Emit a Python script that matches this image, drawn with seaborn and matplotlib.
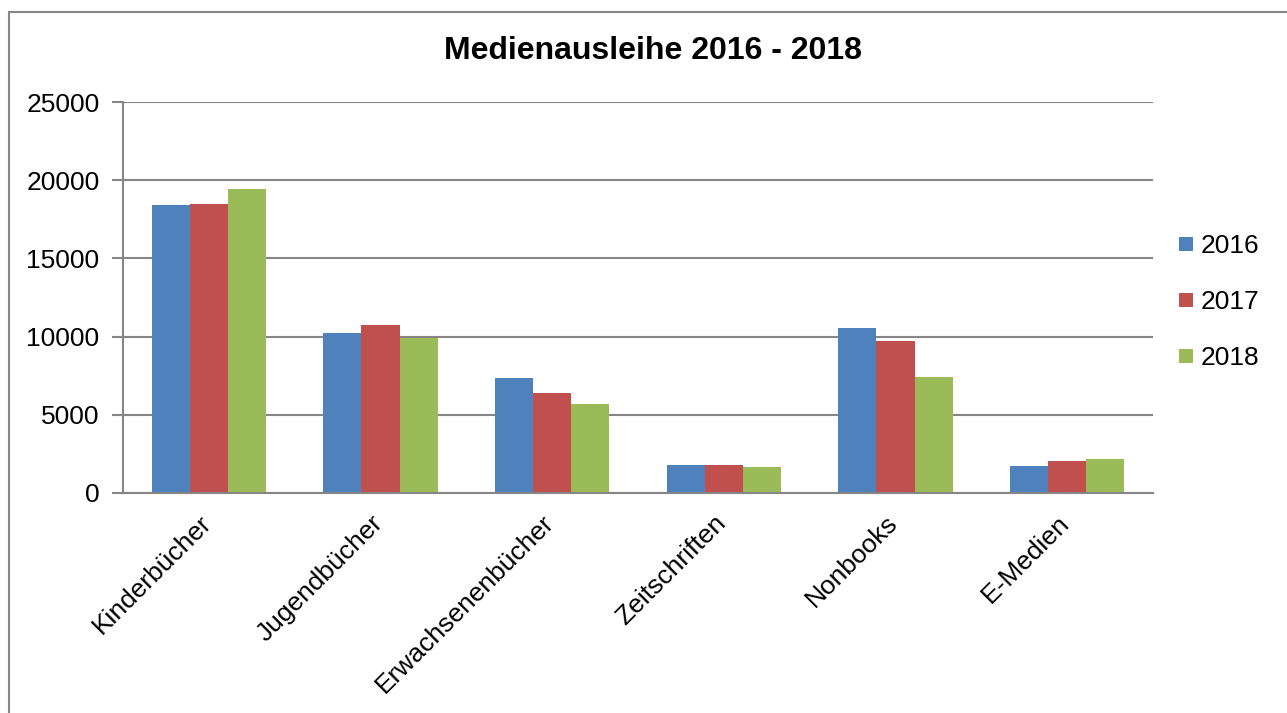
import pandas as pd
import seaborn as sns
import matplotlib.pyplot as plt
from matplotlib.lines import Line2D
from matplotlib.transforms import ScaledTranslation

categories = ["Kinderbücher", "Jugendbücher", "Erwachsenenbücher",
              "Zeitschriften", "Nonbooks", "E-Medien"]
years = ["2016", "2017", "2018"]
values_2016 = [18410, 10240, 7360, 1760, 10580, 1720]
values_2017 = [18490, 10730, 6400, 1810, 9720, 2040]
values_2018 = [19430, 9920, 5700, 1680, 7410, 2190]
colors = ["#4F81BD", "#C0504D", "#9BBB59"]

df = pd.DataFrame({"Kategorie": categories,
                   "2016": values_2016,
                   "2017": values_2017,
                   "2018": values_2018})
long_df = df.melt(id_vars="Kategorie", var_name="Jahr", value_name="Ausleihe")

sns.set_style("white")
plt.rcParams['font.family'] = ['Liberation Sans', 'DejaVu Sans']
plt.rcParams['text.color'] = 'black'
plt.rcParams['xtick.color'] = 'black'
plt.rcParams['ytick.color'] = 'black'

fig = plt.figure(figsize=(12.87, 7.13), dpi=100)
ax = fig.add_axes([123 / 1287, 1 - 493 / 713, 1030 / 1287, 391 / 713])

sns.barplot(data=long_df, x="Kategorie", y="Ausleihe", hue="Jahr",
            hue_order=years, palette=colors, width=0.665, linewidth=0,
            saturation=1, ax=ax)

ax.set_ylim(0, 25000)
ax.set_yticks(range(0, 25001, 5000))
ax.set_xlim(-0.5, len(categories) - 0.5)
ax.yaxis.grid(True, color="#868686", linewidth=1.5)
ax.set_axisbelow(True)
for side in ["top", "right"]:
    ax.spines[side].set_visible(False)
for side in ["left", "bottom"]:
    ax.spines[side].set_color("#868686")
    ax.spines[side].set_linewidth(1.5)

ax.tick_params(axis="y", left=True, length=8, width=1.5, color="#868686",
               labelcolor="black", labelsize=19, pad=9)
ax.tick_params(axis="x", bottom=False, labelsize=19, pad=4, labelcolor="black")
shift = ScaledTranslation(-0.10, -0.07, fig.dpi_scale_trans)
for lbl in ax.get_xticklabels():
    lbl.set_rotation(45)
    lbl.set_ha("right")
    lbl.set_rotation_mode("anchor")
    lbl.set_transform(lbl.get_transform() + shift)
ax.set_xlabel("")
ax.set_ylabel("")

fig.text(653 / 1287, 1 - 51 / 713, "Medienausleihe 2016 - 2018",
         ha="center", va="center", fontsize=23, fontweight="bold")

ax.legend_.remove()
handles = [Line2D([], [], marker="s", linestyle="none", markersize=10,
                  markerfacecolor=c, markeredgewidth=0) for c in colors]
fig.legend(handles, years, loc="center left",
           bbox_to_anchor=(1165 / 1287, 1 - 302 / 713), frameon=False,
           fontsize=19, labelspacing=1.22, handlelength=0.6,
           handletextpad=0.25, borderpad=0)

# outer chart border
fig.add_artist(Line2D([9 / 1287, 9 / 1287], [0, 1 - 12 / 713],
                      transform=fig.transFigure, color="#868686", linewidth=1.5))
fig.add_artist(Line2D([9 / 1287, 1], [1 - 12 / 713, 1 - 12 / 713],
                      transform=fig.transFigure, color="#868686", linewidth=1.5))

fig.savefig("out.png", dpi=100, facecolor="white")
